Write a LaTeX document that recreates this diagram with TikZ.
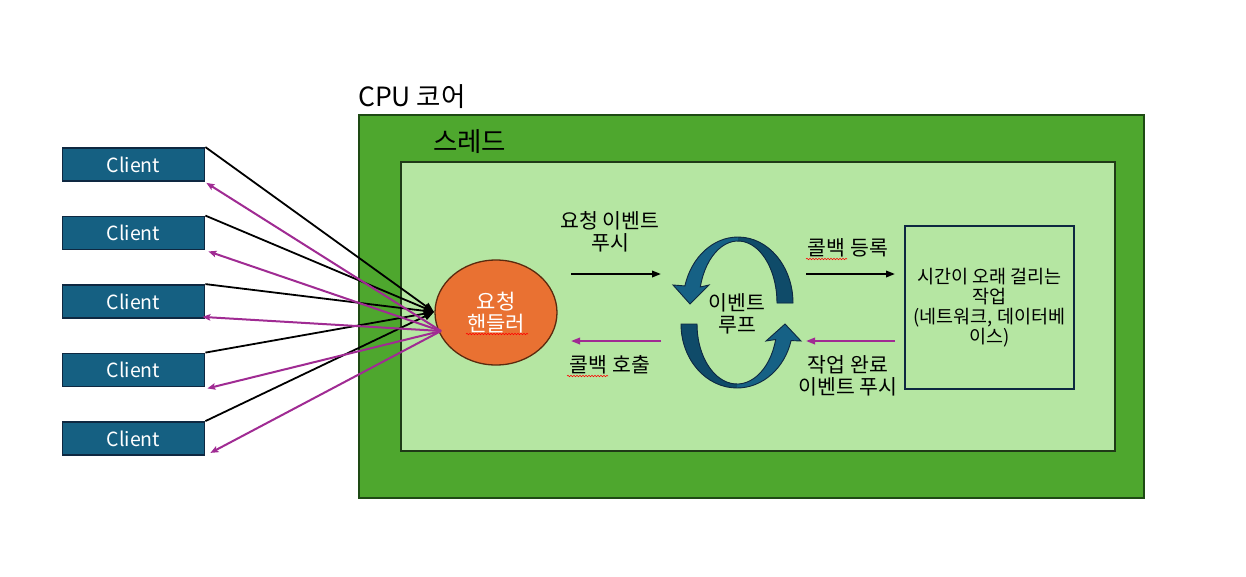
\documentclass[tikz,border=0pt]{standalone}
\usepackage{fontspec}
\setmainfont{Noto Sans CJK KR}
\usetikzlibrary{arrows.meta,decorations.pathmorphing,shapes.geometric}
\definecolor{outerg}{HTML}{4EA72E}
\definecolor{outerb}{HTML}{1E4A14}
\definecolor{innerg}{HTML}{B5E6A2}
\definecolor{innerb}{HTML}{1F3A17}
\definecolor{clientf}{HTML}{156082}
\definecolor{navy}{HTML}{0E2841}
\definecolor{orangef}{HTML}{E97132}
\definecolor{orangeb}{HTML}{5A2A0E}
\definecolor{purp}{HTML}{A02B93}
\definecolor{loopf}{HTML}{166185}
\definecolor{loopd}{HTML}{0F4B69}
\begin{document}
\begin{tikzpicture}[x=1pt,y=-1pt,
  clientbox/.style={draw=navy,fill=clientf,line width=1.8pt,minimum width=142pt,minimum height=33pt,inner sep=0pt,text=white,font=\fontsize{19.5}{21}\selectfont},
  lbl/.style={inner sep=0pt,align=center,font=\fontsize{20.5}{22}\selectfont},
  req/.style={line width=1.8pt,-{Triangle[length=10pt,width=8pt]}},
  resp/.style={line width=2pt,purp,-{Stealth[length=8pt,width=6.5pt,inset=1.5pt]}},
  midblack/.style={line width=1.9pt,-{Triangle[length=9pt,width=6.5pt]}},
  midpurp/.style={line width=1.9pt,purp,-{Triangle[length=9pt,width=6.5pt]}},
  squig/.style={red,line width=0.6pt,decorate,decoration={snake,segment length=3pt,amplitude=0.7pt}},
  looparrow/.style={fill=loopf},
  loopdark/.style={fill=loopd},
  loopline/.style={draw=navy,line width=0.9pt}
]
\useasboundingbox (0,0) rectangle (1246,576);
\fill[white] (0,0) rectangle (1246,576);

% CPU core and thread
\node[draw=outerb,fill=outerg,line width=2pt,minimum width=785pt,minimum height=383pt,inner sep=0pt,anchor=north west] (core) at (358,114) {};
\node[draw=innerb,fill=innerg,line width=1.8pt,minimum width=714pt,minimum height=289pt,inner sep=0pt,anchor=north west] (thread) at (400,161) {};
\node[anchor=base west,inner sep=0pt,font=\fontsize{26.5}{30}\selectfont] (corelbl) at (358,106) {CPU 코어};
\node[anchor=base west,inner sep=0pt,font=\fontsize{26.5}{30}\selectfont] (threadlbl) at (433,151) {스레드};

% clients
\node[clientbox] (c1) at (133.5,164.5) {Client};
\node[clientbox] (c2) at (133.5,233) {Client};
\node[clientbox] (c3) at (133.5,301.5) {Client};
\node[clientbox] (c4) at (133.5,370) {Client};
\node[clientbox] (c5) at (133.5,438.5) {Client};

% handler
\node[ellipse,draw=orangeb,fill=orangef,line width=1.3pt,minimum width=122pt,minimum height=105pt,inner sep=0pt,text=white,align=center,font=\fontsize{21}{22}\selectfont] (handler) at (496,312.5) {요청\\핸들러};
\draw[squig] (466,334) -- (528,334);

\coordinate (hin) at (434,312);
\coordinate (hout) at (441,331);

\foreach \c in {c1,c2,c3,c4,c5}{
  \draw[req] (\c.north east) -- (hin);
}
\draw[resp] (hout) -- ([shift={(1,1)}]c1.south east);
\draw[resp] (hout) -- ([shift={(3,1)}]c2.south east);
\draw[resp] (hout) -- ([shift={(-3,-2)}]c3.south east);
\draw[resp] (hout) -- ([shift={(2,1)}]c4.south east);
\draw[resp] (hout) -- ([shift={(5,-3)}]c5.south east);

% event loop
\path[looparrow] ([shift={(0:55 and 66)}]738,303) arc[start angle=0,end angle=-165,x radius=55,y radius=66]
  -- (673,285) -- (690,304) -- (709,285)
  -- ([shift={(-165:39 and 62)}]738,303) arc[start angle=-165,end angle=0,x radius=39,y radius=62] -- cycle;
\path[loopdark] ([shift={(0:55 and 66)}]738,303) arc[start angle=0,end angle=-90,x radius=55,y radius=66]
  -- ([shift={(-90:39 and 62)}]738,303) arc[start angle=-90,end angle=0,x radius=39,y radius=62] -- cycle;
\path[loopline] ([shift={(0:55 and 66)}]738,303) arc[start angle=0,end angle=-165,x radius=55,y radius=66]
  -- (673,285) -- (690,304) -- (709,285)
  -- ([shift={(-165:39 and 62)}]738,303) arc[start angle=-165,end angle=0,x radius=39,y radius=62] -- cycle;

\path[looparrow] ([shift={(180:56 and 64)}]737,324) arc[start angle=180,end angle=15,x radius=56,y radius=64]
  -- (801,341) -- (785,324) -- (766,341)
  -- ([shift={(15:40 and 60)}]737,324) arc[start angle=15,end angle=180,x radius=40,y radius=60] -- cycle;
\path[loopdark] ([shift={(180:56 and 64)}]737,324) arc[start angle=180,end angle=90,x radius=56,y radius=64]
  -- ([shift={(90:40 and 60)}]737,324) arc[start angle=90,end angle=180,x radius=40,y radius=60] -- cycle;
\path[loopline] ([shift={(180:56 and 64)}]737,324) arc[start angle=180,end angle=15,x radius=56,y radius=64]
  -- (801,341) -- (785,324) -- (766,341)
  -- ([shift={(15:40 and 60)}]737,324) arc[start angle=15,end angle=180,x radius=40,y radius=60] -- cycle;

\node[lbl] (loop) at (737,314) {이벤트\\루프};

% labels and middle arrows
\node[lbl] (pushlbl) at (610,232) {요청 이벤트\\푸시};
\node[lbl] (cblbl) at (610,365) {콜백 호출};
\draw[squig] (567,376) -- (608,376);
\node[lbl] (reglbl) at (848,248) {콜백 등록};
\draw[squig] (806,259) -- (847,259);
\node[lbl] (donelbl) at (848,376) {작업 완료\\이벤트 푸시};

\coordinate (a1s) at (571,274);
\coordinate (a1e) at (661,274);
\coordinate (a2s) at (661,341);
\coordinate (a2e) at (571,341);
\coordinate (a3s) at (806,274);
\coordinate (a3e) at (895,274);
\coordinate (a4s) at (895,341);
\coordinate (a4e) at (806,341);
\draw[midblack] (a1s) -- (a1e);
\draw[midpurp] (a2s) -- (a2e);
\draw[midblack] (a3s) -- (a3e);
\draw[midpurp] (a4s) -- (a4e);

% long task
\node[draw=navy,line width=1.8pt,minimum width=169pt,minimum height=163pt,inner sep=0pt,align=center,font=\fontsize{18.5}{20}\selectfont] (task) at (989.5,307.5) {시간이 오래 걸리는\\작업\\(네트워크, 데이터베\\이스)};
\end{tikzpicture}
\end{document}
